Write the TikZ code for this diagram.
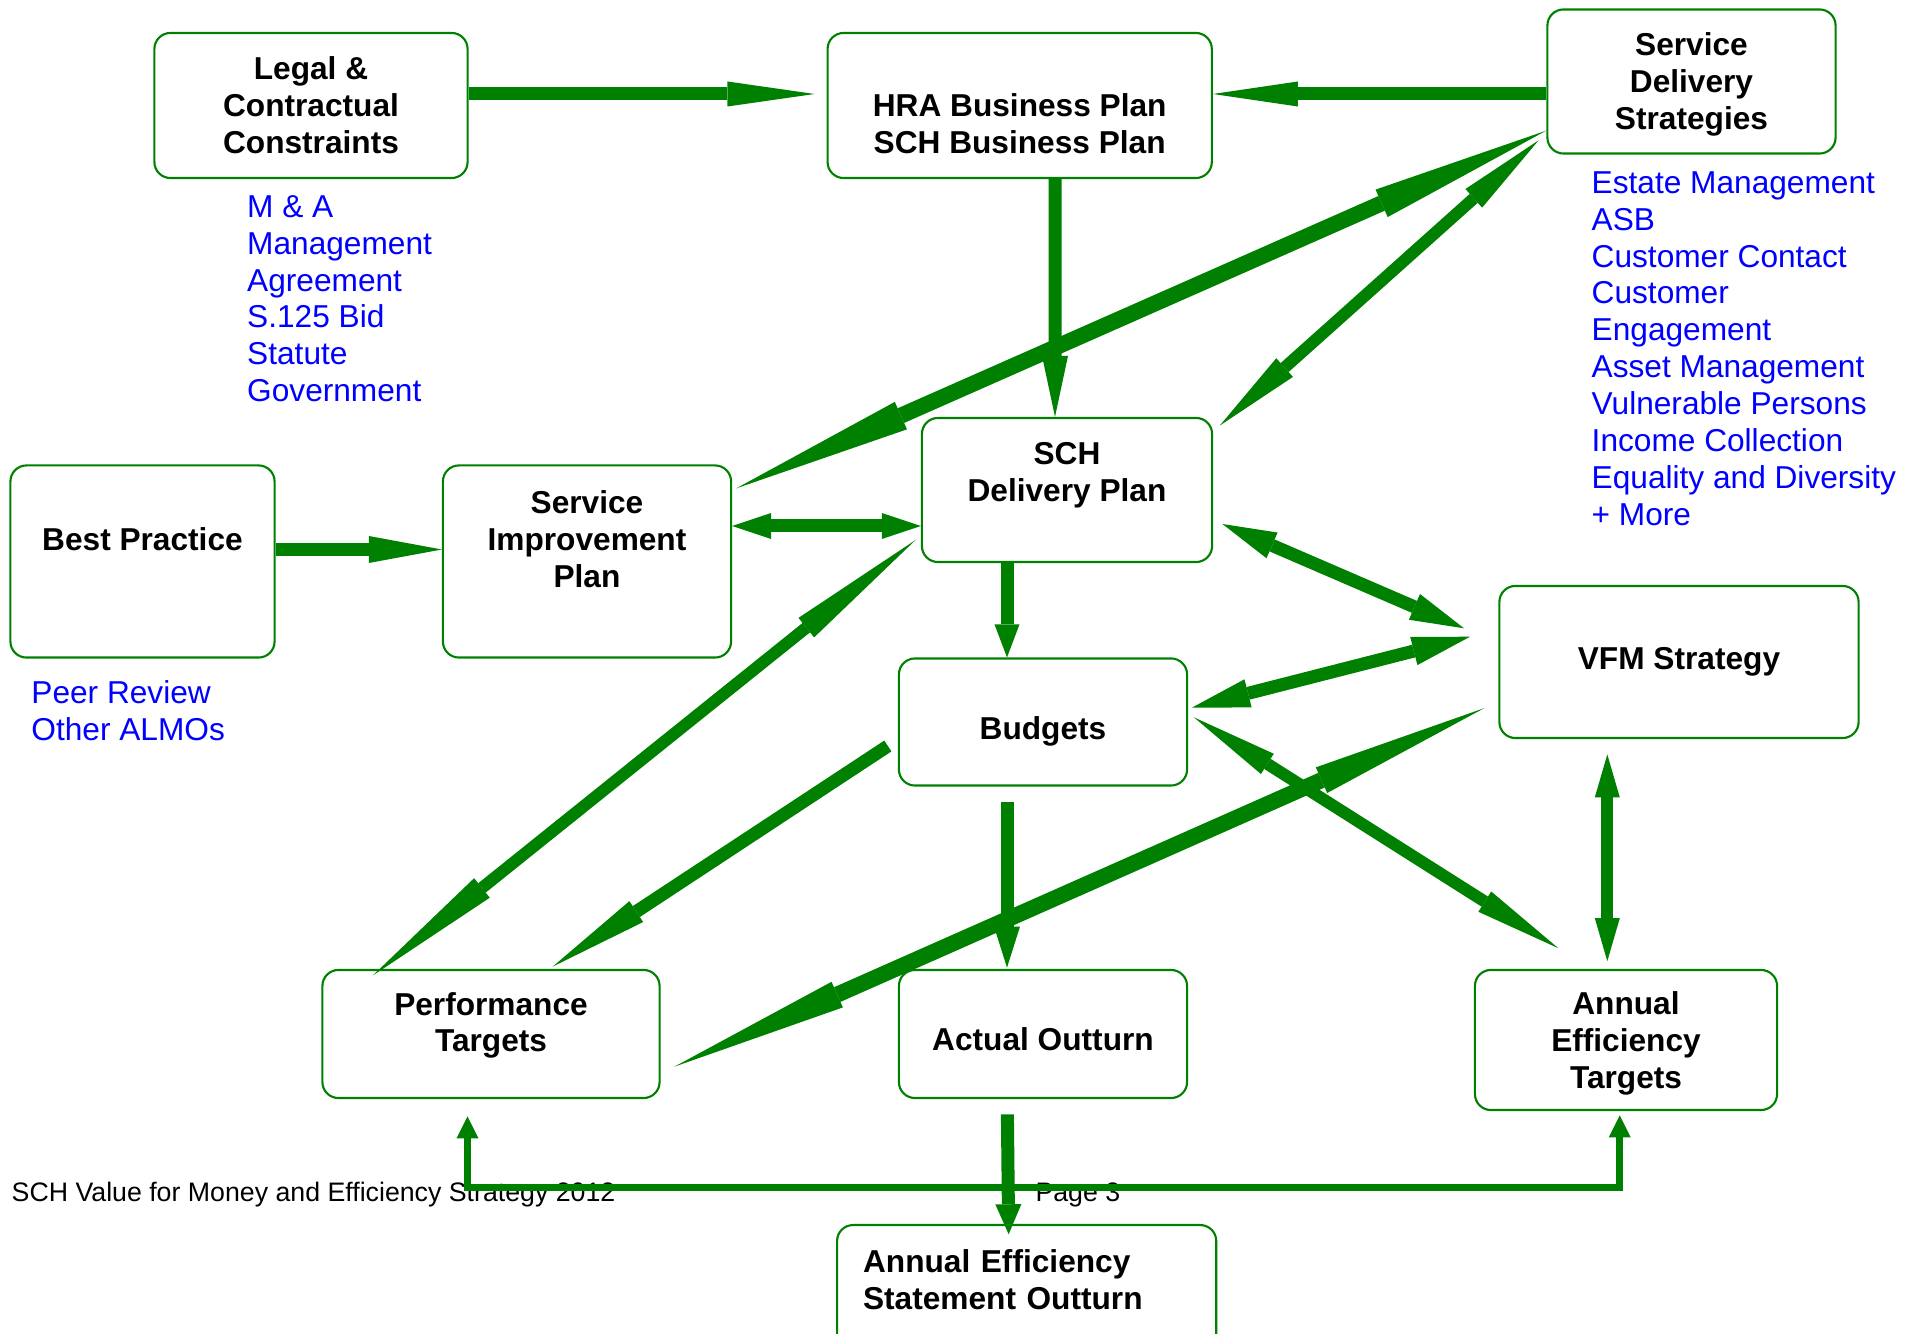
\documentclass[tikz,border=0pt]{standalone}
\usepackage{fontspec}
\setmainfont{Liberation Sans}
\usepackage{xcolor}
\usetikzlibrary{arrows.meta, positioning, calc}

\definecolor{planGreen}{RGB}{0,128,0}
\newcommand{\emptyrow}{\vphantom{H}}

\begin{document}
\begin{tikzpicture}[
    x=0.01cm, y=-0.01cm,
    font=\fontsize{9pt}{10.5pt}\selectfont,
    % Define specific node styles
    plan_node/.style={rectangle, rounded corners=0.16cm, draw=planGreen, line width=0.6pt, align=center, inner sep=0pt, font=\fontsize{9pt}{10.5pt}\selectfont\bfseries},
    note_text/.style={anchor=north west, align=left, text=blue, inner sep=0pt},
    footer_text/.style={anchor=base west, inner sep=0pt, font=\fontsize{7.6pt}{9pt}\selectfont},
    flow/.style={draw=planGreen, line width=0.13cm},
    heavy_flow/.style={draw=planGreen, line width=0.16cm},
    one_way/.style 2 args={-{Triangle[length=#1, width=#2, line width=0pt]}},
    two_way/.style 2 args={{Triangle[length=#1, width=#2, line width=0pt]}-{Triangle[length=#1, width=#2, line width=0pt]}},
]
\useasboundingbox (0,0) rectangle (1923,1334);

% Nodes top row
\node[plan_node, minimum width=3.13cm, minimum height=1.45cm] (legal) at (311,105.5) {Legal \&\\Contractual\\Constraints};
\node[plan_node, minimum width=3.84cm, minimum height=1.45cm] (hra) at (1019.7,105.5) {\emptyrow\\HRA Business Plan\\SCH Business Plan};
\node[plan_node, minimum width=2.88cm, minimum height=1.44cm] (sds) at (1691.5,81.5) {\emptyrow\\[-8.4pt]Service\\Delivery\\Strategies};

% Nodes middle
\node[plan_node, minimum width=2.64cm, minimum height=1.92cm] (best) at (142.5,561.5) {Best Practice\\[2.1pt]\emptyrow};
\node[plan_node, minimum width=2.88cm, minimum height=1.92cm] (sip) at (587,561.5) {Service\\Improvement\\Plan\\[2.4pt]\emptyrow};
\node[plan_node, minimum width=2.90cm, minimum height=1.44cm] (sch) at (1067,490) {SCH\\Delivery Plan\\\emptyrow};
\node[plan_node, minimum width=2.88cm, minimum height=1.27cm] (budgets) at (1043,722) {\emptyrow\\[-4.9pt]Budgets};
\node[plan_node, minimum width=3.59cm, minimum height=1.52cm] (vfm) at (1679,662) {VFM Strategy};

% Nodes bottom row
\node[plan_node, minimum width=3.37cm, minimum height=1.28cm] (targets) at (491,1034) {Performance\\Targets\\[-3.7pt]\emptyrow};
\node[plan_node, minimum width=2.88cm, minimum height=1.28cm] (outturn) at (1043,1034) {\emptyrow\\[-7.1pt]Actual Outturn};
\node[plan_node, minimum width=3.02cm, minimum height=1.40cm] (aet) at (1626,1040) {\emptyrow\\[-8.4pt]Annual\\Efficiency\\Targets};
\node[plan_node, anchor=north west, align=left, text width=3.27cm, inner xsep=0.26cm, minimum width=3.79cm, minimum height=1.45cm] (statement) at (836,1224) {Annual Efficiency\\Statement Outturn\\\emptyrow};

% Blue notes
\node[note_text] (legalnotes) at (246.5,194.6) {M \& A\\Management\\Agreement\\S.125 Bid\\Statute\\Government};
\node[note_text] (sdsnotes) at (1591,170.7) {Estate Management\\ASB\\Customer Contact\\Customer\\Engagement\\Asset Management\\Vulnerable Persons\\Income Collection\\Equality and Diversity\\+ More};
\node[note_text] (bestnotes) at (30.7,680) {Peer Review\\Other ALMOs};

% Page footer
\node[footer_text] (footer) at (11,1201.7) {SCH Value for Money and Efficiency Strategy 2012};
\node[footer_text] (page) at (1034.8,1201.7) {Page 3};

% Connections
\draw[flow, one_way={0.87cm}{0.25cm}] ([shift={(0,-11.5)}]legal.east) -- ([shift={(-12,-11.5)}]hra.west);
\draw[flow, one_way={0.85cm}{0.25cm}] ([shift={(0,12.5)}]sds.west) -- ([shift={(0,-11.5)}]hra.east);
\draw[flow, one_way={0.61cm}{0.26cm}] ([shift={(35.3,0)}]hra.south) -- ([shift={(-12,0)}]sch.north);
\draw[heavy_flow, two_way={1.8cm}{0.3cm}] ([shift={(4,24)}]sip.north east) -- ([shift={(0,-24)}]sds.south west);
\draw[flow, line width=0.12cm, two_way={0.87cm}{0.25cm}] ([shift={(6.6,8.7)}]sch.north east) -- ([shift={(-7.7,-14.3)}]sds.south west);

\draw[flow, one_way={0.73cm}{0.27cm}] ([shift={(0,-12)}]best.east) -- ([shift={(0,-12)}]sip.west);
\draw[flow, two_way={0.39cm}{0.26cm}] ([shift={(0,-35.5)}]sip.east) -- ([shift={(0,36)}]sch.west);
\draw[flow, one_way={0.33cm}{0.25cm}] ([shift={(-60,0)}]sch.south) -- ([shift={(-36,0)}]budgets.north);
\draw[flow, two_way={0.54cm}{0.28cm}] ([shift={(9.3,34)}]sch.east) -- ([shift={(-34.3,-33.7)}]vfm.west);
\draw[flow, two_way={0.58cm}{0.29cm}] ([shift={(-28.3,-25.3)}]vfm.west) -- ([shift={(3.7,-14.3)}]budgets.east);

\draw[flow, line width=0.12cm, two_way={1.4cm}{0.25cm}] ([shift={(-5.3,50)}]sch.west) -- ([shift={(-118.3,6.7)}]targets.north);
\draw[flow, one_way={1.0cm}{0.25cm}] ([shift={(-10,24)}]budgets.west) -- ([shift={(61.7,-2.3)}]targets.north);
\draw[heavy_flow, two_way={1.78cm}{0.28cm}] ([shift={(-14,-31)}]vfm.south west) -- ([shift={(13.7,32.7)}]targets.east);
\draw[flow, line width=0.12cm, two_way={0.87cm}{0.24cm}] ([shift={(5.7,-4.7)}]budgets.east) -- ([shift={(-67.7,-20.7)}]aet.north);
\draw[flow, one_way={0.41cm}{0.26cm}] ([shift={(-36,15.3)}]budgets.south) -- ([shift={(-36,-1.3)}]outturn.north);
\draw[flow, line width=0.12cm, two_way={0.43cm}{0.25cm}] ([shift={(-71.7,15.3)}]vfm.south) -- ([shift={(-18.7,-7.7)}]aet.north);

\draw[flow, one_way={0.30cm}{0.26cm}] ([shift={(-35.6,15.3)}]outturn.south) -- ([shift={(-18,10.3)}]statement.north);
\draw[flow, line width=0.07cm, two_way={0.22cm}{0.22cm}] ([shift={(-23.5,17.3)}]targets.south) -- ++(0,70.7) -| ([shift={(-6.3,4.3)}]aet.south);

\end{tikzpicture}
\end{document}
